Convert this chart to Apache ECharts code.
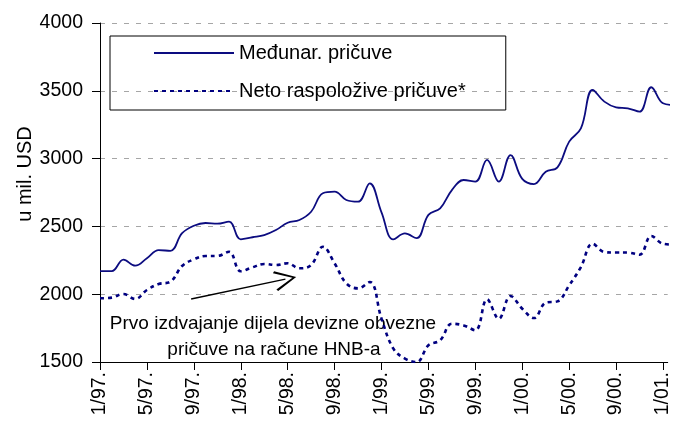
<!DOCTYPE html>
<html>
<head>
<meta charset="utf-8">
<script src="https://cdn.jsdelivr.net/npm/echarts@6/dist/echarts.min.js"></script>
<style>
  html, body { margin: 0; padding: 0; background: #fff; }
  #chart { width: 673px; height: 424px; }
</style>
</head>
<body>
<div id="chart"></div>
<script>
  // mjeseci 1/97 - 2/01
  let months = [
    '1/97.', '2/97.', '3/97.', '4/97.', '5/97.', '6/97.', '7/97.', '8/97.', '9/97.', '10/97.', '11/97.', '12/97.',
    '1/98.', '2/98.', '3/98.', '4/98.', '5/98.', '6/98.', '7/98.', '8/98.', '9/98.', '10/98.', '11/98.', '12/98.',
    '1/99.', '2/99.', '3/99.', '4/99.', '5/99.', '6/99.', '7/99.', '8/99.', '9/99.', '10/99.', '11/99.', '12/99.',
    '1/00.', '2/00.', '3/00.', '4/00.', '5/00.', '6/00.', '7/00.', '8/00.', '9/00.', '10/00.', '11/00.', '12/00.',
    '1/01.', '2/01.'
  ];

  let medunar = [
    2170, 2170, 2255, 2210, 2265, 2325, 2320, 2450, 2505, 2525, 2520, 2535,
    2405, 2420, 2436, 2473, 2527, 2547, 2608, 2744, 2756, 2695, 2682, 2817,
    2604, 2405, 2448, 2413, 2585, 2633, 2768, 2842, 2830, 2990, 2830, 3026,
    2850, 2812, 2903, 2935, 3125, 3223, 3506, 3420, 3378, 3371, 3346, 3526,
    3408, 3395
  ];

  let neto = [
    1970, 1975, 2001, 1965, 2031, 2075, 2092, 2208, 2257, 2282, 2282, 2313,
    2169, 2198, 2223, 2215, 2228, 2191, 2215, 2350, 2228, 2080, 2043, 2090,
    1820, 1600, 1525, 1500, 1623, 1660, 1782, 1770, 1734, 1962, 1819, 1987,
    1893, 1824, 1937, 1947, 2065, 2200, 2372, 2311, 2307, 2307, 2291, 2429,
    2372, 2365
  ];

  let seriesNames = ['Međunar. pričuve', 'Neto raspoložive pričuve*'];
  let yTicks = {min: 1500, max: 4000, interval: 500};
  let xMax = 48.4;

  // strelica: od (mjesec, vrijednost) do sredine vrha strelice (mjesec, vrijednost)
  let arrowFrom = [7.77, 1965];
  let arrowTo = [15.81, 2111];

  let font = 'Liberation Sans, Arial, sans-serif';
  let chart = echarts.init(document.getElementById('chart'));

  let option = {
    backgroundColor: '#fff',
    animation: false,
    grid: {left: 100, right: 0, top: 23, bottom: 62},
    legend: {
      orient: 'vertical',
      left: 110,
      top: 36,
      data: seriesNames,
      itemWidth: 80,
      itemHeight: 20,
      itemGap: 18,
      padding: [7, 40, 9, 43],
      borderColor: '#000',
      borderWidth: 1,
      itemStyle: {opacity: 0},
      textStyle: {fontSize: 20, color: '#000', fontFamily: font}
    },
    xAxis: {
      type: 'value',
      min: 0,
      max: xMax,
      interval: 4,
      axisLine: {lineStyle: {color: '#000', width: 1}},
      axisTick: {show: true, length: 8, lineStyle: {color: '#000'}},
      splitLine: {show: false},
      axisLabel: {
        rotate: 90,
        margin: 10,
        fontSize: 19.5,
        color: '#000',
        fontFamily: font,
        showMaxLabel: false,
        formatter: function(v) {
          return months[Math.round(v)] || '';
        }
      }
    },
    yAxis: {
      type: 'value',
      min: yTicks.min,
      max: yTicks.max,
      interval: yTicks.interval,
      axisLine: {show: true, lineStyle: {color: '#000', width: 1}},
      axisTick: {show: true, length: 8, lineStyle: {color: '#000'}},
      splitLine: {show: true, lineStyle: {color: '#a6a6a6', type: [5, 7], width: 1}},
      axisLabel: {
        margin: 17, fontSize: 19.5, color: '#000', fontFamily: font,
        formatter: function(v) { return String(v); }
      }
    },
    series: [
      {
        name: seriesNames[0],
        type: 'line',
        symbol: 'none',
        smooth: 0.4,
        data: medunar.map(function(v, i) { return [i, v]; }),
        lineStyle: {color: '#0c0c80', width: 1.8, type: 'solid'},
        itemStyle: {color: '#0c0c80'}
      },
      {
        name: seriesNames[1],
        type: 'line',
        symbol: 'none',
        smooth: 0.4,
        data: neto.map(function(v, i) { return [i, v]; }),
        lineStyle: {color: '#000080', width: 2.6, type: [4, 4]},
        itemStyle: {color: '#000080'},
        markLine: {
          silent: true,
          symbol: ['none', 'path://M10,0 L20,21 L18.3,22.5 L10,4 L1.7,22.5 L0,21 Z'],
          symbolSize: [20, 22],
          label: {show: false},
          lineStyle: {color: '#000', type: 'solid', width: 1.4},
          itemStyle: {color: '#000'},
          data: [[{coord: arrowFrom}, {coord: arrowTo}]]
        }
      }
    ],
    graphic: [
      {
        type: 'text',
        x: 25,
        y: 174,
        rotation: Math.PI / 2,
        style: {text: 'u mil. USD', fontSize: 20, fill: '#000', fontFamily: font, align: 'center', verticalAlign: 'middle'}
      },
      {
        type: 'text',
        x: 273,
        y: 324,
        style: {text: 'Prvo izdvajanje dijela devizne obvezne', fontSize: 19, fill: '#000', fontFamily: font, align: 'center', verticalAlign: 'middle'}
      },
      {
        type: 'text',
        x: 274,
        y: 350,
        style: {text: 'pričuve na račune HNB-a', fontSize: 19, fill: '#000', fontFamily: font, align: 'center', verticalAlign: 'middle'}
      }
    ]
  };

  chart.setOption(option);
</script>
</body>
</html>
